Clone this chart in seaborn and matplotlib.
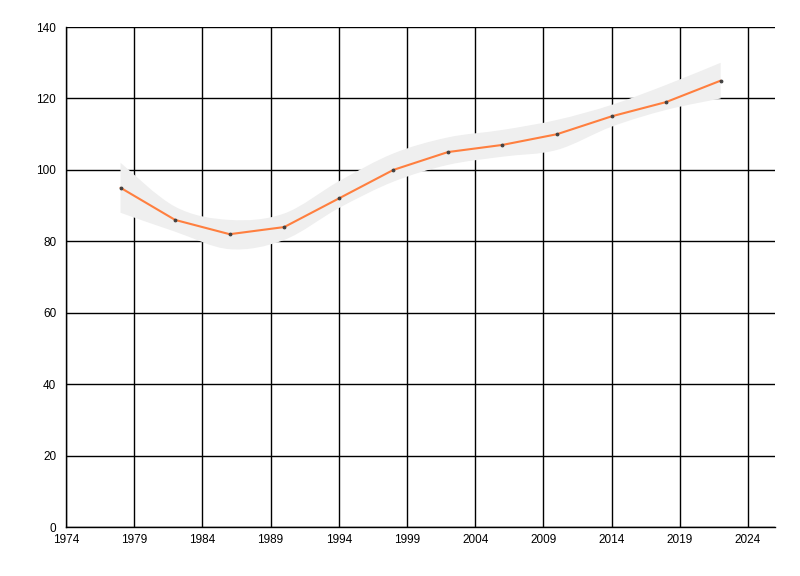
import numpy as np
import pandas as pd
import seaborn as sns
import matplotlib
matplotlib.use("Agg")
import matplotlib.pyplot as plt
from matplotlib.path import Path
from matplotlib.patches import PathPatch

# Data
years = [1978, 1982, 1986, 1990, 1994, 1998, 2002, 2006, 2010, 2014, 2018, 2022]
values = [95, 86, 82, 84, 92, 100, 105, 107, 110, 115, 119, 125]
upper = [102, 89.7, 86, 87.8, 96.8, 104.6, 109.1, 111.2, 114, 118.2, 123.8, 130]
lower = [88, 82.7, 77.8, 80.4, 89.3, 96.7, 101.4, 103.7, 105.6, 112.1, 116.8, 120]
x_ticks = [1974, 1979, 1984, 1989, 1994, 1999, 2004, 2009, 2014, 2019, 2024]
y_ticks = [0, 20, 40, 60, 80, 100, 120, 140]

df = pd.DataFrame({"year": years, "value": values})

sns.set_style("white")
plt.rcParams["font.family"] = ["Liberation Sans", "DejaVu Sans"]


def spline_path(xs, ys):
    # bezier segments (catmull-rom style) through the given points
    xs = np.asarray(xs, float)
    ys = np.asarray(ys, float)
    verts = [(xs[0], ys[0])]
    codes = [Path.MOVETO]
    n = len(xs)
    for i in range(n - 1):
        p0 = (xs[max(i - 1, 0)], ys[max(i - 1, 0)])
        p1 = (xs[i], ys[i])
        p2 = (xs[i + 1], ys[i + 1])
        p3 = (xs[min(i + 2, n - 1)], ys[min(i + 2, n - 1)])
        c1 = (p1[0] + (p2[0] - p0[0]) / 6, p1[1] + (p2[1] - p0[1]) / 6)
        c2 = (p2[0] - (p3[0] - p1[0]) / 6, p2[1] - (p3[1] - p1[1]) / 6)
        verts += [c1, c2, p2]
        codes += [Path.CURVE4] * 3
    return verts, codes


fig = plt.figure(figsize=(8, 5.76), dpi=100)
ax = fig.add_axes([0.0825, 0.085, 0.8865, 0.868])

# range band
uv, uc = spline_path(years, upper)
lv, lc = spline_path(years[::-1], lower[::-1])
verts = uv + [lv[0]] + lv[1:] + [uv[0]]
codes = uc + [Path.LINETO] + lc[1:] + [Path.CLOSEPOLY]
band = PathPatch(Path(verts, codes), facecolor="#efefef", edgecolor="none", zorder=2)
ax.add_patch(band)

sns.lineplot(data=df, x="year", y="value", ax=ax, color="#ff7f3f", linewidth=1.5,
             marker="o", markersize=2, markerfacecolor="#404040",
             markeredgecolor="#404040", zorder=3)

ax.set_xlim(1974, 2026)
ax.set_ylim(0, 140)
ax.set_xticks(x_ticks)
ax.set_yticks(y_ticks)
ax.set_xlabel("")
ax.set_ylabel("")
ax.grid(True, color="black", linewidth=1.0, zorder=1)
ax.set_axisbelow(True)
for side in ["top", "right"]:
    ax.spines[side].set_visible(False)
for side in ["left", "bottom"]:
    ax.spines[side].set_color("black")
    ax.spines[side].set_linewidth(1.0)
ax.tick_params(axis="y", length=6, width=1, color="black", labelcolor="black",
               labelsize=8.5, pad=1)
ax.tick_params(axis="x", length=0, labelcolor="black", labelsize=8.5, pad=5)

fig.savefig("out.png", dpi=100)
